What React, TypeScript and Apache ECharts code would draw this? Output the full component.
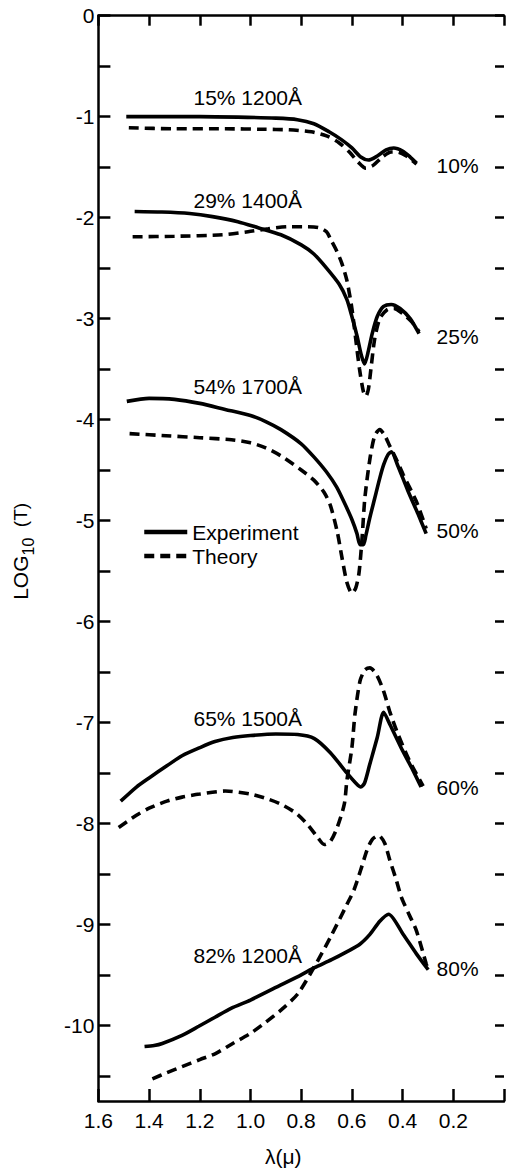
import React, { useEffect, useRef } from 'react';
import * as echarts from 'echarts';

const FONT = '"Liberation Sans", Arial, sans-serif';

// wavelength (micron) vs log10(T)
const exp15 = [[1.49,-1.0],[1.35,-1.0],[1.2,-1.0],[1.05,-1.005],[0.9,-1.015],[0.815,-1.03],[0.75,-1.07],[0.69,-1.15],[0.64,-1.23],[0.6,-1.31],[0.565,-1.4],[0.535,-1.43],[0.5,-1.39],[0.465,-1.33],[0.435,-1.31],[0.4,-1.34],[0.37,-1.4],[0.345,-1.46]];
const thr15 = [[1.48,-1.11],[1.3,-1.12],[1.1,-1.12],[0.95,-1.125],[0.85,-1.13],[0.76,-1.15],[0.7,-1.19],[0.65,-1.26],[0.61,-1.35],[0.575,-1.45],[0.545,-1.51],[0.515,-1.48],[0.48,-1.4],[0.445,-1.35],[0.42,-1.35],[0.385,-1.39],[0.345,-1.47]];

const exp29 = [[1.457,-1.94],[1.35,-1.945],[1.24,-1.96],[1.15,-1.99],[1.05,-2.04],[0.97,-2.1],[0.88,-2.17],[0.8,-2.27],[0.75,-2.36],[0.7,-2.5],[0.65,-2.66],[0.62,-2.81],[0.6,-2.98],[0.58,-3.17],[0.563,-3.36],[0.55,-3.45],[0.535,-3.32],[0.52,-3.15],[0.5,-2.98],[0.475,-2.88],[0.445,-2.86],[0.41,-2.9],[0.37,-3.0],[0.335,-3.15]];
const thr29 = [[1.465,-2.19],[1.3,-2.185],[1.11,-2.17],[1.01,-2.14],[0.93,-2.11],[0.85,-2.09],[0.78,-2.09],[0.73,-2.1],[0.7,-2.14],[0.685,-2.21],[0.66,-2.33],[0.64,-2.45],[0.62,-2.62],[0.6,-2.9],[0.585,-3.2],[0.57,-3.5],[0.555,-3.72],[0.545,-3.77],[0.535,-3.7],[0.525,-3.5],[0.51,-3.2],[0.49,-3.0],[0.46,-2.91],[0.435,-2.9],[0.4,-2.95],[0.365,-3.03],[0.335,-3.13]];

const exp54 = [[1.488,-3.82],[1.4,-3.79],[1.3,-3.8],[1.2,-3.84],[1.1,-3.9],[1.0,-3.96],[0.94,-4.02],[0.88,-4.1],[0.8,-4.24],[0.75,-4.37],[0.7,-4.52],[0.66,-4.67],[0.625,-4.85],[0.6,-4.99],[0.58,-5.13],[0.568,-5.24],[0.555,-5.24],[0.545,-5.15],[0.53,-4.98],[0.51,-4.78],[0.49,-4.58],[0.475,-4.45],[0.458,-4.35],[0.444,-4.32],[0.42,-4.45],[0.38,-4.7],[0.34,-4.93],[0.307,-5.13]];
const thr54 = [[1.477,-4.14],[1.333,-4.16],[1.2,-4.18],[1.075,-4.2],[1.0,-4.23],[0.94,-4.28],[0.88,-4.36],[0.8,-4.5],[0.75,-4.6],[0.71,-4.72],[0.685,-4.85],[0.658,-5.11],[0.639,-5.37],[0.619,-5.62],[0.6,-5.72],[0.585,-5.67],[0.572,-5.52],[0.56,-5.18],[0.549,-4.78],[0.529,-4.39],[0.51,-4.16],[0.49,-4.1],[0.47,-4.16],[0.451,-4.26],[0.42,-4.42],[0.397,-4.55],[0.346,-4.81],[0.307,-5.08]];

const exp65 = [[1.512,-7.78],[1.45,-7.64],[1.4,-7.55],[1.33,-7.43],[1.27,-7.33],[1.2,-7.25],[1.14,-7.19],[1.07,-7.15],[1.0,-7.13],[0.9,-7.115],[0.814,-7.12],[0.748,-7.16],[0.685,-7.3],[0.62,-7.5],[0.585,-7.6],[0.565,-7.64],[0.55,-7.6],[0.53,-7.42],[0.5,-7.15],[0.475,-6.9],[0.45,-7.02],[0.4,-7.28],[0.36,-7.47],[0.327,-7.64]];
const thr65 = [[1.52,-8.04],[1.45,-7.92],[1.4,-7.85],[1.33,-7.78],[1.27,-7.74],[1.2,-7.71],[1.1,-7.68],[1.0,-7.71],[0.93,-7.76],[0.88,-7.81],[0.82,-7.9],[0.775,-8.01],[0.735,-8.14],[0.709,-8.21],[0.685,-8.18],[0.658,-8.04],[0.63,-7.81],[0.62,-7.58],[0.6,-7.25],[0.588,-6.92],[0.568,-6.59],[0.549,-6.48],[0.529,-6.46],[0.502,-6.53],[0.475,-6.69],[0.451,-6.89],[0.424,-7.08],[0.373,-7.38],[0.319,-7.63]];

const exp82 = [[1.418,-10.21],[1.38,-10.2],[1.348,-10.18],[1.27,-10.1],[1.204,-10.01],[1.14,-9.92],[1.075,-9.83],[1.0,-9.75],[0.88,-9.6],[0.8,-9.5],[0.748,-9.43],[0.68,-9.35],[0.619,-9.27],[0.57,-9.2],[0.529,-9.1],[0.49,-8.97],[0.455,-8.9],[0.4,-9.09],[0.346,-9.29],[0.299,-9.45]];
const thr82 = [[1.387,-10.53],[1.33,-10.47],[1.27,-10.41],[1.2,-10.34],[1.138,-10.28],[1.07,-10.18],[1.0,-10.08],[0.94,-9.97],[0.88,-9.85],[0.814,-9.69],[0.748,-9.42],[0.685,-9.13],[0.619,-8.8],[0.592,-8.66],[0.565,-8.46],[0.541,-8.27],[0.52,-8.16],[0.494,-8.12],[0.47,-8.2],[0.451,-8.36],[0.425,-8.56],[0.405,-8.73],[0.375,-8.9],[0.346,-9.06],[0.307,-9.39],[0.299,-9.45]];

const experimentSets = [exp15, exp29, exp54, exp65, exp82];
const theorySets = [thr15, thr29, thr54, thr65, thr82];

// curve annotations (sample description / film thickness)
const sampleLabels = ['15% 1200Å', '29% 1400Å', '54% 1700Å', '65% 1500Å', '82% 1200Å'];
const sampleLabelX = 1.227;
const sampleLabelY = [-0.81, -1.83, -3.675, -6.96, -9.31];

const endLabels = ['10%', '25%', '50%', '60%', '80%'];
const endLabelX = 0.268;
const endLabelY = [-1.484, -3.18, -5.1, -7.64, -9.44];

const yTickValues = Array.from({ length: 22 }, (_, i) => -i * 0.5);
const yLabelValues = Array.from({ length: 11 }, (_, i) => -i);

export default function App() {
  const ref = useRef<HTMLDivElement>(null);
  useEffect(() => {
    document.body.style.margin = '0';
    const chart = echarts.init(ref.current!, null, { renderer: 'svg' });
    const lineSeries: any[] = [];
    experimentSets.forEach((d) => {
      lineSeries.push({
        type: 'line', name: 'Experiment', data: d, symbol: 'none', smooth: 0.25,
        silent: true, z: 3,
        itemStyle: { color: '#000' },
        lineStyle: { color: '#000', width: 3.6, type: 'solid' },
      });
    });
    theorySets.forEach((d) => {
      lineSeries.push({
        type: 'line', name: 'Theory', data: d, symbol: 'none', smooth: 0.25,
        silent: true, z: 3,
        itemStyle: { color: '#000' },
        lineStyle: { color: '#000', width: 3.6, type: [10, 6] },
      });
    });
    const textLabel = {
      show: true, position: 'right', distance: 0, color: '#000', opacity: 1,
      textBorderWidth: 0, fontFamily: FONT, fontSize: 21, formatter: '{b}',
    };
    lineSeries.push({
      type: 'scatter', silent: true, symbolSize: 1, itemStyle: { color: 'transparent' },
      data: sampleLabels.map((t, i) => ({ name: t, value: [sampleLabelX, sampleLabelY[i]] })),
      label: textLabel, z: 5,
    });
    lineSeries.push({
      type: 'scatter', silent: true, symbolSize: 1, itemStyle: { color: 'transparent' },
      data: endLabels.map((t, i) => ({ name: t, value: [endLabelX, endLabelY[i]] })),
      label: textLabel, z: 5,
    });

    const axisLine = { show: true, onZero: false, lineStyle: { color: '#000', width: 2.5 } };
    chart.setOption({
      animation: false,
      backgroundColor: '#fff',
      tooltip: { show: false },
      grid: { left: 98.4, top: 15.7, width: 410, height: 1089.3 },
      legend: {
        data: ['Experiment', 'Theory'],
        orient: 'vertical', left: 137, top: 516,
        itemWidth: 43, itemHeight: 14, itemGap: 2,
        selectedMode: false,
        itemStyle: { color: 'transparent', borderWidth: 0, opacity: 0 },
        lineStyle: { width: 4.5 },
        textStyle: { color: '#000', fontFamily: FONT, fontSize: 21, lineHeight: 22 },
      },
      xAxis: [
        {
          type: 'value', position: 'bottom', min: 0, max: 1.6, interval: 0.2, inverse: true,
          axisLine,
          axisTick: { show: true, inside: true, length: 12, lineStyle: { color: '#000', width: 2.5 } },
          axisLabel: {
            color: '#000', fontFamily: FONT, fontSize: 21, margin: 9,
            formatter: (v: number) => (v === 0 ? '' : v.toFixed(1)),
          },
          splitLine: { show: false },
          name: 'λ(μ)', nameLocation: 'middle', nameGap: 45,
          nameTextStyle: { color: '#000', fontFamily: FONT, fontSize: 21, padding: [0, 36, 0, 0] },
        },
        {
          type: 'value', position: 'top', min: 0, max: 1.6, interval: 0.2, inverse: true,
          axisLine,
          axisTick: { show: true, inside: true, length: 10, lineStyle: { color: '#000', width: 2.5 } },
          axisLabel: { show: false },
          splitLine: { show: false },
        },
      ],
      yAxis: [
        {
          type: 'value', position: 'left', min: -10.75, max: 0,
          axisLine,
          axisTick: { show: true, inside: true, length: 12, customValues: yTickValues, lineStyle: { color: '#000', width: 2.5 } },
          axisLabel: { color: '#000', fontFamily: FONT, fontSize: 21, margin: 4, customValues: yLabelValues },
          splitLine: { show: false },
          name: '{a|LOG}{s|10}{t|  (T)}', nameLocation: 'middle', nameGap: 62, nameRotate: 90,
          nameTextStyle: {
            color: '#000', fontFamily: FONT, padding: [0, 0, 0, 14],
            rich: {
              a: { fontFamily: FONT, fontSize: 21, color: '#000', lineHeight: 32, verticalAlign: 'middle' },
              s: { fontFamily: FONT, fontSize: 16, color: '#000', lineHeight: 32, verticalAlign: 'bottom' },
              t: { fontFamily: FONT, fontSize: 19, color: '#000', lineHeight: 32, verticalAlign: 'middle' },
            },
          },
        },
        {
          type: 'value', position: 'right', min: -10.75, max: 0,
          axisLine: { show: false, onZero: false },
          axisTick: { show: true, inside: true, length: 9, customValues: yTickValues, lineStyle: { color: '#000', width: 2.5 } },
          axisLabel: { show: false },
          splitLine: { show: false },
        },
      ],
      series: lineSeries,
    });
    return () => chart.dispose();
  }, []);
  return (
    <div style={{ position: 'fixed', left: 0, top: 0, width: 507, height: 1172, overflow: 'hidden', background: '#fff' }}>
      <div ref={ref} style={{ width: 507, height: 1172 }} />
    </div>
  );
}
